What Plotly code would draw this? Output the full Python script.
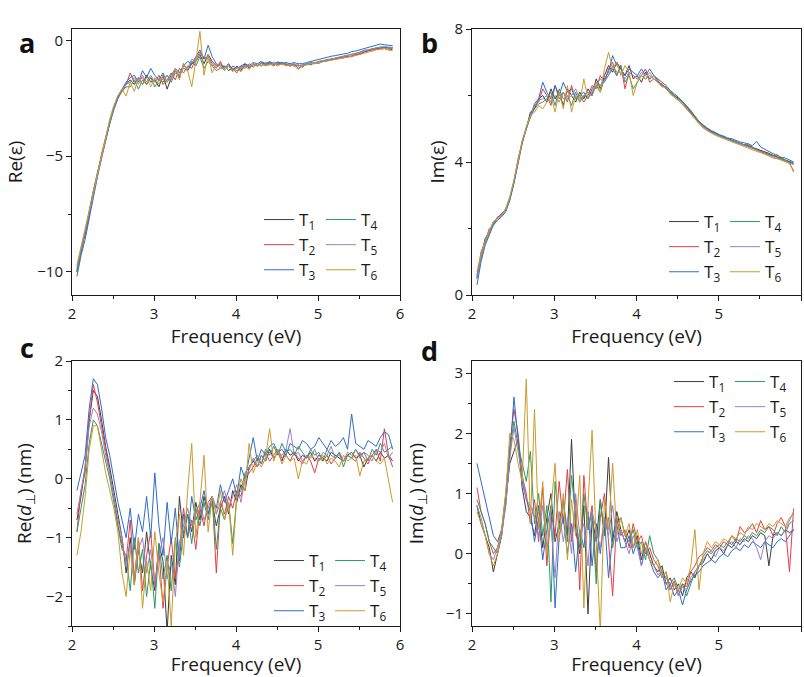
import numpy as np
import plotly.graph_objects as go
from plotly.subplots import make_subplots

# grille en énergie (eV), pas de 0.05
freq = np.round(np.arange(2.06, 5.92, 0.05), 2)

series_names = ["T<sub>1</sub>", "T<sub>2</sub>", "T<sub>3</sub>",
                "T<sub>4</sub>", "T<sub>5</sub>", "T<sub>6</sub>"]
colors = ["#3c3c3c", "#e53d45", "#2f6cc8", "#2c9a64", "#9b7fc4", "#cc9a2c"]

# a : Re(eps)
re_eps_t1 = [-10.0, -9.0, -8.4, -7.5, -6.6, -5.8, -5.0, -4.2, -3.5, -2.9, -2.4, -2.1, -1.9,
             -1.7, -1.9, -1.6, -1.9, -1.5, -1.8, -1.7, -2.0, -1.5, -2.1, -1.6, -1.3, -1.6, -1.0, -1.3, -1.0, -0.9, -0.6, -1.0, -0.6, -0.9, -1.1, -1.0,
             -1.2, -1.0, -1.3, -1.1, -1.3, -1.0, -1.2, -1.0, -1.1, -0.95, -1.05, -0.9, -1.05, -1.0, -0.95, -1.05, -1.0, -1.1, -1.05, -1.15, -1.0,
             -1.05, -0.95, -0.98, -0.9, -0.88, -0.8, -0.82, -0.74, -0.75, -0.68, -0.7, -0.6, -0.6, -0.5, -0.45, -0.38, -0.35, -0.32, -0.28, -0.32, -0.3]
re_eps_t2 = [-9.9, -9.2, -8.3, -7.4, -6.5, -5.8, -4.9, -4.2, -3.5, -2.9, -2.5, -2.2, -1.9,
             -1.4, -1.8, -1.7, -1.6, -1.9, -1.6, -1.8, -1.5, -1.9, -1.7, -1.4, -1.7, -1.2, -1.4, -1.1, -1.2, -0.8, -0.5, -0.8, -0.7, -1.0, -1.2, -0.9,
             -1.3, -1.1, -1.2, -1.4, -1.1, -1.2, -1.0, -1.15, -1.0, -1.1, -0.95, -1.0, -1.1, -0.95, -1.0, -1.05, -1.1, -1.0, -1.2, -1.1, -1.05,
             -0.98, -1.0, -0.92, -0.9, -0.85, -0.85, -0.78, -0.78, -0.7, -0.72, -0.65, -0.62, -0.55, -0.5, -0.42, -0.45, -0.38, -0.35, -0.32, -0.4, -0.38]
re_eps_t3 = [-10.2, -9.3, -8.6, -7.7, -6.7, -5.9, -5.1, -4.3, -3.6, -3.0, -2.5, -2.1, -1.8,
             -1.6, -1.5, -1.8, -1.3, -1.6, -1.2, -1.5, -1.7, -1.4, -1.8, -1.5, -1.2, -1.4, -1.1, -0.9, -1.0, -0.7, -0.4, -0.8, -0.2, -0.7, -1.0, -1.1,
             -1.1, -1.3, -1.1, -1.2, -1.1, -1.0, -1.1, -0.95, -1.0, -0.9, -1.0, -0.95, -1.0, -0.92, -0.98, -0.95, -1.0, -0.95, -1.0, -1.0, -0.95,
             -0.9, -0.85, -0.82, -0.75, -0.7, -0.68, -0.65, -0.6, -0.58, -0.55, -0.48, -0.45, -0.4, -0.36, -0.3, -0.25, -0.2, -0.15, -0.18, -0.2, -0.22]
re_eps_t4 = [-10.0, -9.1, -8.3, -7.4, -6.5, -5.7, -5.0, -4.2, -3.5, -2.9, -2.4, -2.2, -2.0,
             -2.0, -1.7, -2.1, -1.7, -1.9, -1.6, -2.0, -1.7, -1.8, -1.5, -1.8, -1.4, -1.5, -1.2, -1.3, -0.9, -1.1, -0.7, -1.2, -0.9, -1.1, -1.3, -1.2,
             -1.1, -1.3, -1.2, -1.3, -1.2, -1.05, -1.15, -1.05, -1.1, -1.0, -1.05, -1.0, -0.95, -1.05, -1.0, -1.0, -1.1, -1.05, -1.1, -1.05, -1.0,
             -0.95, -0.98, -0.9, -0.88, -0.82, -0.8, -0.76, -0.72, -0.68, -0.66, -0.6, -0.55, -0.5, -0.42, -0.4, -0.35, -0.3, -0.28, -0.3, -0.32, -0.35]
re_eps_t5 = [-9.8, -9.0, -8.3, -7.5, -6.6, -5.8, -5.0, -4.2, -3.5, -2.9, -2.4, -2.1, -1.9,
             -1.8, -1.6, -1.9, -1.5, -1.8, -1.5, -1.8, -1.6, -1.7, -1.5, -1.7, -1.3, -1.5, -1.1, -1.2, -0.8, -0.9, -0.6, -0.7, -0.8, -1.1, -1.0, -1.2,
             -1.2, -1.1, -1.35, -1.15, -1.2, -1.1, -1.1, -1.05, -1.0, -1.1, -1.0, -1.05, -0.98, -1.0, -1.05, -1.0, -1.05, -1.0, -1.1, -1.05, -1.0,
             -1.0, -0.95, -0.9, -0.86, -0.84, -0.8, -0.75, -0.72, -0.7, -0.64, -0.62, -0.56, -0.52, -0.46, -0.4, -0.36, -0.32, -0.3, -0.26, -0.28, -0.3]
re_eps_t6 = [-9.7, -8.9, -8.2, -7.4, -6.5, -5.7, -4.9, -4.1, -3.4, -2.8, -2.4, -2.1, -2.4,
             -1.8, -2.2, -1.6, -1.9, -1.6, -2.0, -1.6, -1.9, -1.5, -1.8, -1.6, -1.2, -1.7, -1.0, -1.3, -2.0, -0.9, 0.4, -1.5, -0.6, -1.4, -1.0, -1.1,
             -1.3, -1.1, -1.3, -1.2, -1.35, -1.1, -1.25, -1.0, -1.1, -1.0, -1.1, -1.05, -1.0, -1.1, -1.0, -1.1, -1.05, -1.1, -1.25, -1.1, -1.05,
             -1.0, -1.0, -0.95, -0.92, -0.88, -0.85, -0.82, -0.8, -0.76, -0.72, -0.7, -0.65, -0.6, -0.55, -0.48, -0.45, -0.4, -0.38, -0.36, -0.4, -0.45]

# b : Im(eps)
im_eps_t1 = [0.6, 1.2, 1.7, 1.9, 2.2, 2.3, 2.45, 2.55, 2.9, 3.4, 4.0, 4.6, 5.0, 5.5, 5.6, 5.9, 6.0,
             5.8, 6.2, 5.9, 6.1, 5.7, 6.2, 6.0, 5.8, 6.1, 5.9, 6.2, 6.0, 6.5, 6.2, 6.6, 6.9, 6.7, 7.0, 6.8, 6.6, 6.9, 6.5, 6.6, 6.4, 6.7, 6.5, 6.6,
             6.45, 6.3, 6.25, 6.1, 6.0, 5.92, 5.78, 5.66, 5.5, 5.36, 5.2, 5.1, 5.0, 4.92, 4.86, 4.8, 4.74,
             4.7, 4.66, 4.6, 4.56, 4.52, 4.5, 4.44, 4.4, 4.35, 4.3, 4.26, 4.2, 4.16, 4.1, 4.06, 4.0, 3.95]
im_eps_t2 = [0.5, 1.3, 1.6, 2.0, 2.1, 2.35, 2.4, 2.6, 2.9, 3.4, 4.1, 4.6, 5.05, 5.35, 5.7, 5.8, 6.2,
             6.0, 5.7, 6.3, 5.9, 6.1, 5.8, 6.3, 5.9, 6.0, 5.8, 6.0, 6.3, 6.2, 6.6, 6.4, 6.8, 7.0, 6.6, 6.9, 6.2, 6.7, 6.6, 6.5, 6.6, 6.8, 6.4, 6.5,
             6.4, 6.35, 6.2, 6.12, 5.98, 5.9, 5.8, 5.62, 5.48, 5.33, 5.18, 5.06, 4.98, 4.9, 4.84, 4.78, 4.75,
             4.68, 4.64, 4.6, 4.55, 4.5, 4.46, 4.42, 4.38, 4.32, 4.28, 4.22, 4.18, 4.14, 4.08, 4.04, 3.98, 3.7]
im_eps_t3 = [0.3, 1.0, 1.5, 1.8, 2.1, 2.25, 2.35, 2.5, 2.85, 3.35, 4.0, 4.55, 5.0, 5.4, 5.75, 5.9, 6.4,
             6.1, 5.9, 6.3, 6.0, 6.4, 6.1, 6.2, 5.9, 6.0, 6.1, 5.9, 6.2, 6.4, 6.3, 6.5, 6.7, 7.2, 6.9, 6.8, 6.6, 6.8, 6.7, 6.6, 6.8, 6.6, 6.8, 6.6,
             6.5, 6.4, 6.3, 6.15, 6.05, 5.95, 5.82, 5.7, 5.55, 5.38, 5.22, 5.12, 5.02, 4.95, 4.88, 4.82, 4.78,
             4.72, 4.7, 4.64, 4.6, 4.58, 4.52, 4.5, 4.62, 4.45, 4.38, 4.32, 4.25, 4.2, 4.14, 4.12, 4.05, 4.0]
im_eps_t4 = [0.5, 1.1, 1.55, 1.85, 2.15, 2.3, 2.4, 2.55, 2.9, 3.4, 4.05, 4.6, 5.0, 5.35, 5.6, 5.75, 5.8,
             5.9, 6.1, 5.7, 6.2, 5.9, 6.0, 5.7, 6.1, 5.8, 6.0, 5.9, 6.1, 6.3, 6.1, 6.5, 6.6, 6.8, 6.6, 6.9, 6.4, 6.6, 6.2, 6.4, 6.6, 6.5, 6.6, 6.5,
             6.42, 6.3, 6.2, 6.1, 6.02, 5.9, 5.8, 5.68, 5.52, 5.38, 5.22, 5.1, 5.0, 4.9, 4.85, 4.8, 4.74,
             4.7, 4.64, 4.58, 4.55, 4.52, 4.56, 4.45, 4.35, 4.32, 4.25, 4.22, 4.18, 4.22, 4.12, 4.06, 4.02, 3.98]
im_eps_t5 = [0.55, 1.15, 1.6, 1.9, 2.2, 2.3, 2.4, 2.55, 2.95, 3.45, 4.05, 4.6, 5.0, 5.4, 5.7, 5.85, 5.9,
             6.0, 5.8, 6.0, 5.8, 6.1, 5.9, 6.0, 6.2, 5.9, 6.0, 6.1, 6.0, 6.3, 6.5, 6.4, 6.6, 6.9, 6.7, 6.7, 6.5, 6.7, 6.6, 6.5, 6.7, 6.6, 6.5, 6.6,
             6.4, 6.3, 6.2, 6.05, 5.95, 5.85, 5.72, 5.6, 5.45, 5.3, 5.15, 5.05, 4.95, 4.88, 4.82, 4.76, 4.72,
             4.68, 4.62, 4.58, 4.54, 4.5, 4.45, 4.4, 4.36, 4.3, 4.24, 4.18, 4.12, 4.1, 4.06, 4.02, 3.98, 3.92]
im_eps_t6 = [0.7, 1.25, 1.65, 1.95, 2.2, 2.3, 2.4, 2.6, 2.95, 3.45, 4.1, 4.65, 5.05, 5.4, 5.5, 5.7, 5.6,
             5.8, 6.0, 5.5, 6.1, 5.6, 6.3, 5.5, 6.0, 5.8, 6.5, 5.9, 6.1, 6.4, 6.1, 6.8, 7.3, 6.8, 7.0, 6.6, 6.9, 6.7, 6.0, 6.4, 6.6, 6.5, 6.7, 6.5,
             6.4, 6.25, 6.3, 6.05, 5.95, 5.85, 5.75, 5.6, 5.45, 5.3, 5.15, 5.02, 4.94, 4.86, 4.8, 4.75, 4.7,
             4.65, 4.6, 4.56, 4.52, 4.46, 4.4, 4.36, 4.32, 4.28, 4.24, 4.2, 4.16, 4.12, 4.08, 4.02, 3.95, 3.75]

# c : Re(d_perp) en nm
re_d_t1 = [-0.7, -0.3, 0.2, 1.0, 1.5, 1.4, 1.0, 0.55, 0.2, -0.2, -0.6, -1.0,
           -1.6, -1.0, -1.8, -1.2, -1.6, -0.9, -1.5, -1.9, -1.1, -1.4, -2.6, -1.3, -1.8, -0.3, -1.0, -0.6, -0.9, -0.4,
           -0.7, -0.3, -0.6, -0.4, -0.8, -0.5, -0.3, -0.6, -0.2, -0.4, -0.1, -0.2, 0.2,
           0.3, 0.2, 0.4, 0.3, 0.5, 0.35, 0.45, 0.3, 0.5, 0.4, 0.45, 0.3, 0.4, 0.35, 0.45, 0.3, 0.4, 0.35,
           0.3, 0.45, 0.4, 0.35, 0.3, 0.4, 0.45, 0.35, 0.4, 0.2, 0.35, 0.4, 0.3, 0.45, 0.35, 0.4, 0.3]
re_d_t2 = [-0.9, -0.2, 0.1, 1.0, 1.6, 1.3, 0.9, 0.5, 0.1, -0.3, -0.8, -1.1,
           -1.4, -0.7, -1.7, -1.0, -1.9, -1.3, -0.9, -1.8, -1.2, -2.2, -1.5, -1.0, -1.7, -1.2, -0.5, -1.0, -0.7, -1.2,
           -0.5, -0.8, -0.4, -0.3, -1.6, -0.4, -0.6, -0.3, -0.5, -0.2, -0.3, 0.0, 0.1,
           0.2, 0.35, 0.25, 0.45, 0.3, 0.4, 0.5, 0.35, 0.4, 0.3, 0.45, 0.35, 0.25, 0.4, 0.3, 0.1, 0.35, 0.3,
           0.4, 0.25, 0.35, 0.45, 0.3, 0.4, 0.35, 0.3, 0.45, 0.35, 0.25, 0.4, 0.5, 0.3, 0.85, 0.4, 0.2]
re_d_t3 = [-0.2, 0.1, 0.4, 1.2, 1.7, 1.6, 1.2, 0.7, 0.4, 0.0, -0.4, -0.7,
           -1.0, -0.5, -1.2, -0.6, -0.9, -0.3, -1.0, 0.1, -0.8, -1.3, -0.4, -1.1, -0.5, -1.4, -0.6, -1.0, -0.3, -0.7,
           -0.5, -0.2, -0.6, -0.3, -0.5, -0.1, -0.4, -0.2, 0.0, -0.3, 0.2, 0.0, 0.35,
           0.7, 0.3, 0.5, 0.4, 0.55, 0.6, 0.45, 0.5, 0.4, 0.6, 0.55, 0.5, 0.65, 0.6, 0.5, 0.55, 0.7, 0.6,
           0.5, 0.65, 0.55, 0.6, 0.7, 0.5, 1.1, 0.6, 0.55, 0.5, 0.65, 0.6, 0.55, 0.7, 0.8, 0.75, 0.5]
re_d_t4 = [-0.9, -0.5, -0.1, 0.6, 1.0, 0.9, 0.6, 0.3, 0.0, -0.4, -0.8, -1.2,
           -1.3, -1.9, -1.0, -1.6, -1.2, -2.0, -1.4, -2.2, -1.1, -1.7, -1.3, -1.9, -1.0, -1.5, -0.9, -0.6, -1.1, -0.5,
           -0.8, -0.4, -0.7, -0.3, -1.2, -0.5, -0.7, -0.4, -1.1, -0.3, -0.2, 0.1, 0.2,
           0.3, 0.4, 0.25, 0.5, 0.4, 0.55, 0.4, 0.6, 0.45, 0.5, 0.4, 0.55, 0.45, 0.35, 0.5, 0.4, 0.45, 0.3,
           0.5, 0.4, 0.35, 0.45, 0.2, 0.4, 0.35, 0.5, 0.4, 0.45, 0.3, 0.5, 0.4, 0.6, 0.45, 0.5, 0.55]
re_d_t5 = [-0.6, -0.2, 0.2, 0.9, 1.2, 1.1, 0.8, 0.4, 0.1, -0.3, -0.7, -1.0,
           -1.5, -1.1, -1.7, -1.2, -1.0, -1.6, -1.2, -1.8, -1.3, -1.0, -1.7, -1.4, -2.0, -1.1, -0.8, -0.5, -0.8, -0.6,
           -0.4, -0.7, -0.5, -0.3, -0.6, -0.4, -0.2, -0.5, -0.3, -0.1, -0.4, 0.0, 0.15,
           0.35, 0.2, 0.4, 0.3, 0.45, 0.35, 0.45, 0.4, 0.5, 0.85, 0.4, 0.45, 0.3, 0.4, 0.35, 0.5, 0.3, 0.45,
           0.4, 0.55, 0.35, 0.4, 0.3, 0.45, 0.4, 0.5, 0.35, 0.45, 0.4, 0.3, 0.5, 0.45, 0.6, 0.35, 0.45]
re_d_t6 = [-1.3, -0.9, -0.3, 0.5, 0.9, 0.9, 0.5, 0.1, -0.2, -0.5, -0.9, -1.6,
           -2.0, -1.2, -1.8, -1.0, -2.2, -1.4, -1.9, -0.9, -1.6, -2.1, -1.4, -2.5, -1.1, -0.6, -1.3, -0.2, 0.6, -1.0,
           -0.4, 0.4, -0.9, -0.3, -0.6, -0.2, -0.7, -0.4, -1.3, -0.3, 0.0, -0.2, 0.6,
           0.1, 0.3, 0.2, 0.35, 0.85, 0.3, 0.5, 0.25, 0.4, 0.3, 0.35, 0.0, 0.3, 0.25, 0.4, 0.35, 0.3, 0.4,
           0.25, 0.35, 0.3, 0.2, 0.4, 0.3, 0.35, 0.4, 0.05, 0.3, 0.35, 0.4, 0.3, 0.25, 0.35, 0.0, -0.4]

# d : Im(d_perp) en nm
im_d_t1 = [0.8, 0.5, 0.3, 0.1, -0.3, 0.0, 0.3, 0.9, 1.5, 1.7, 1.9, 1.1, 0.7, 0.6,
           0.3, 0.8, 0.1, 0.6, 1.0, 0.2, 0.5, 0.9, 0.3, 1.9, 0.4, 0.0, 0.8, -1.0, 0.6, 0.2, 0.9, 0.3, 1.6, 0.2, 0.7, 0.4,
           0.2, 0.4, 0.1, 0.3, -0.1, 0.2, 0.0, -0.2, -0.3, -0.2, -0.5, -0.4, -0.6, -0.5, -0.7, -0.4, -0.3, -0.4, -0.2, -0.15, 0.0,
           -0.1, 0.05, 0.1, 0.0, 0.15, 0.1, 0.2, 0.15, 0.25, 0.2, 0.3, 0.25, 0.35, 0.3, -0.2, 0.3, 0.35, 0.3, 0.4, 0.35, 0.4]
im_d_t2 = [1.1, 0.7, 0.5, 0.2, 0.0, 0.1, 0.4, 1.0, 1.8, 2.4, 2.0, 1.3, 1.0, 0.5,
           0.9, 0.2, 1.1, -0.2, 0.7, 0.3, 1.2, 0.5, 1.4, 0.2, 0.9, -0.6, 1.3, 0.4, 0.8, -0.3, 0.6, 1.0, 0.2, -0.7, 0.6, 0.3,
           0.4, 0.1, 0.5, 0.2, 0.3, 0.0, 0.1, -0.1, -0.2, -0.4, -0.3, -0.6, -0.45, -0.7, -0.5, -0.55, -0.3, -0.2, -0.05, 0.0, 0.1,
           0.05, 0.15, 0.1, 0.2, 0.15, 0.3, 0.2, 0.45, 0.35, 0.4, 0.5, 0.35, 0.55, 0.4, 0.45, 0.3, 0.5, 0.6, 0.45, -0.3, 0.75]
im_d_t3 = [1.5, 1.2, 0.9, 0.6, 0.3, 0.2, 0.4, 0.8, 1.6, 2.6, 1.9, 1.2, 0.9, 0.7,
           0.2, 0.6, -0.1, 0.4, 0.8, -0.9, 0.3, 0.6, 0.0, 0.5, -0.3, 0.4, 0.1, 0.7, -0.2, 0.5, 0.0, 0.6, -0.4, 0.3, 0.5, 0.1,
           0.1, 0.3, 0.0, 0.2, -0.2, 0.1, -0.1, -0.3, -0.4, -0.3, -0.6, -0.5, -0.7, -0.6, -0.85, -0.6, -0.45, -0.35, -0.3, -0.2, -0.15,
           -0.1, -0.15, -0.05, 0.0, -0.05, 0.05, 0.1, 0.05, 0.15, 0.1, 0.2, 0.15, 0.1, 0.2, 0.15, 0.1, 0.2, 0.25, 0.2, 0.3, 0.4]
im_d_t4 = [0.9, 0.7, 0.5, 0.2, 0.1, 0.0, 0.3, 0.9, 1.7, 2.2, 1.8, 1.5, 1.2, 1.7,
           0.5, 1.0, 0.3, 0.8, -0.8, 1.2, 0.4, 0.9, 0.2, 1.3, 0.6, 0.1, 1.0, 0.4, 0.7, -0.5, 0.9, 0.3, 0.6, 0.1, 0.5, 0.6,
           0.3, 0.2, 0.4, 0.1, 0.2, -0.1, 0.3, 0.0, -0.1, -0.3, -0.4, -0.5, -0.4, -0.6, -0.5, -0.7, -0.5, -0.3, -0.2, -0.05, 0.05,
           0.0, 0.1, 0.15, 0.1, 0.2, 0.15, 0.25, 0.2, 0.3, 0.25, 0.35, 0.3, 0.4, 0.35, 0.45, 0.4, 0.3, 0.45, 0.35, 0.5, 0.55]
im_d_t5 = [0.8, 0.6, 0.3, 0.0, -0.1, 0.1, 0.3, 0.8, 1.6, 2.1, 1.7, 1.3, 0.9, 0.8,
           0.6, 0.3, 0.8, 0.1, 0.5, -0.4, 0.7, 0.2, 0.6, 0.0, 1.0, 0.3, 0.5, -0.2, 0.7, 0.4, 0.1, 0.6, 0.3, 0.8, 0.2, 0.4,
           0.2, 0.0, 0.3, 0.1, -0.2, 0.1, -0.1, -0.2, -0.35, -0.3, -0.5, -0.6, -0.5, -0.7, -0.55, -0.6, -0.4, -0.3, -0.2, -0.1, 0.0,
           0.05, -0.05, 0.1, 0.05, 0.15, 0.2, 0.1, 0.25, 0.2, 0.3, 0.25, 0.1, -0.1, 0.2, 0.3, 0.25, 0.35, 0.3, 0.4, 0.55, 0.7]
im_d_t6 = [0.7, 0.5, 0.3, 0.0, -0.2, 0.0, 0.4, 1.0, 2.0, 1.9, 1.5, 1.2, 2.9, 0.5,
           2.4, 0.4, 1.2, 0.0, 0.8, 1.5, 0.2, 1.0, -0.1, 0.9, 0.3, 1.3, -0.9, 0.8, 2.05, 0.2, -1.3, 0.9, 0.4, 1.5, 0.3, 0.6,
           0.3, 0.5, 0.1, 0.4, 0.0, 0.2, -0.1, -0.2, -0.1, -0.4, -0.3, -0.8, -0.5, -0.6, -0.4, -0.5, -0.2, 0.4, -0.6, 0.0, 0.2,
           0.1, 0.2, 0.15, 0.25, 0.2, 0.3, 0.25, 0.35, 0.3, 0.45, 0.4, 0.5, 0.45, 0.4, 0.5, 0.45, 0.55, 0.5, 0.45, 0.6, 0.65]

panels = [
    ("a", 1, 1, [re_eps_t1, re_eps_t2, re_eps_t3, re_eps_t4, re_eps_t5, re_eps_t6]),
    ("b", 1, 2, [im_eps_t1, im_eps_t2, im_eps_t3, im_eps_t4, im_eps_t5, im_eps_t6]),
    ("c", 2, 1, [re_d_t1, re_d_t2, re_d_t3, re_d_t4, re_d_t5, re_d_t6]),
    ("d", 2, 2, [im_d_t1, im_d_t2, im_d_t3, im_d_t4, im_d_t5, im_d_t6]),
]

FONT = "Open Sans"
INK = "#1a1a1a"

fig = make_subplots(rows=2, cols=2)

for p, (letter, row, col, data) in enumerate(panels):
    for k, y in enumerate(data):
        leg = "legend" if (2 * p + k // 3) == 0 else f"legend{2 * p + k // 3 + 1}"
        fig.add_trace(go.Scatter(
            x=freq, y=y, mode="lines", name=series_names[k],
            line=dict(color=colors[k], width=1),
            legend=leg,
        ), row=row, col=col)

# position des axes (en pixels mesurés sur l'image)
W, H = 804, 677
def px_x(a, b):
    return [a / W, b / W]
def px_y(top, bottom):
    return [1 - bottom / H, 1 - top / H]

common = dict(showline=True, mirror=True, linecolor=INK, linewidth=1,
              ticks="outside", ticklen=5, tickwidth=1, tickcolor=INK,
              showgrid=False, zeroline=False, automargin=False,
              tickfont=dict(family=FONT, size=15, color=INK),
              title_font=dict(family=FONT, size=19, color=INK))

xdom = [px_x(72, 400), px_x(472, 801), px_x(72, 400), px_x(472, 801)]
ydom = [px_y(29, 295), px_y(29, 295), px_y(361, 626), px_y(361, 626)]
yset = [
    dict(range=[-11, 0.5], dtick=5, tick0=0, minor_dtick=2.5, title_text="Re(ε)", title_standoff=9),
    dict(range=[0, 8], dtick=4, tick0=0, minor_dtick=2, title_text="Im(ε)", title_standoff=4),
    dict(range=[-2.5, 2], dtick=1, tick0=0, minor_dtick=0.5, title_text="Re(<i>d</i><sub>⊥</sub>) (nm)", title_standoff=9),
    dict(range=[-1.2, 3.2], dtick=1, tick0=0, minor_dtick=0.5, title_text="Im(<i>d</i><sub>⊥</sub>) (nm)", title_standoff=17),
]

for i in range(4):
    xa = "xaxis" if i == 0 else f"xaxis{i + 1}"
    ya = "yaxis" if i == 0 else f"yaxis{i + 1}"
    ys = dict(yset[i])
    mdt = ys.pop("minor_dtick")
    fig.update_layout({
        xa: dict(common, domain=xdom[i], range=[2, 6], dtick=1, tick0=2,
                 minor=dict(ticks="outside", ticklen=3, tickwidth=1, tickcolor=INK, dtick=0.5),
                 title_text="Frequency (eV)", title_standoff=1),
        ya: dict(common, domain=ydom[i],
                 minor=dict(ticks="outside", ticklen=3, tickwidth=1, tickcolor=INK, dtick=mdt),
                 **ys),
    })

# légendes : deux colonnes par panneau
leg_pos = [(259, 202), (321, 202), (664, 204), (725, 204),
           (269, 543), (330, 543), (669, 364), (730, 364)]
for j, (lx, ly) in enumerate(leg_pos):
    name = "legend" if j == 0 else f"legend{j + 1}"
    fig.update_layout({name: dict(x=lx / W, y=1 - ly / H, xanchor="left", yanchor="top",
                                  bgcolor="rgba(0,0,0,0)",
                                  font=dict(family=FONT, size=17, color=INK))})

for letter, lx, ly in [("a", 17, 22), ("b", 430, 22), ("c", 18, 347), ("d", 430, 350)]:
    fig.add_annotation(text=f"<b>{letter}</b>", x=lx / W, y=1 - ly / H, xref="paper", yref="paper",
                       showarrow=False, font=dict(family=FONT, size=27, color="#111"))

fig.update_layout(width=W, height=H, margin=dict(l=0, r=0, t=0, b=0, autoexpand=False),
                  paper_bgcolor="white", plot_bgcolor="white", showlegend=True,
                  font=dict(family=FONT, color=INK))

# la page html ajoute une marge de 8 px autour du graphique : on l'enlève
fig.write_html("out.html", config={"displayModeBar": False},
               post_script="document.body.style.margin = '0';")
